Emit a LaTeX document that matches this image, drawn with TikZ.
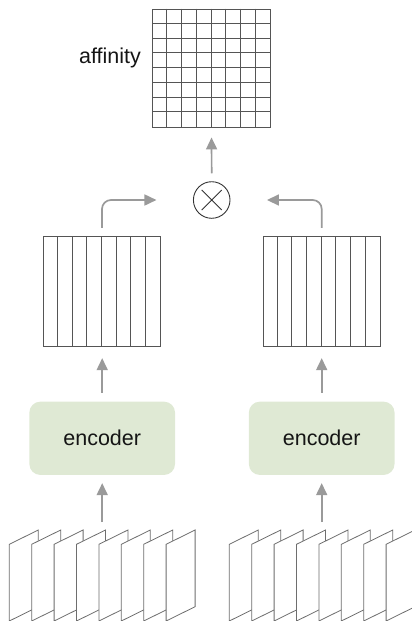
\documentclass[tikz,border=0pt]{standalone}
\usepackage{fontspec}
\setmainfont{Liberation Sans}
\usetikzlibrary{arrows.meta}
\definecolor{arrowgray}{HTML}{9A9A9A}
\definecolor{gridgray}{HTML}{555555}
\definecolor{framegray}{HTML}{6E6E6E}
\definecolor{encgreen}{HTML}{DFE9D4}
\definecolor{txt}{HTML}{151515}
\tikzset{
  arr/.style={draw=arrowgray, line width=1.7pt, -{Triangle[length=12pt,width=11pt]}},
  gridbox/.style={draw=gridgray, line width=0.9pt, minimum width=118pt, minimum height=118pt, inner sep=0pt},
  featbox/.style={draw=gridgray, line width=0.9pt, minimum width=117.4pt, minimum height=110pt, inner sep=0pt},
  encbox/.style={fill=encgreen, rounded corners=11pt, minimum width=145.7pt, minimum height=73.3pt, inner sep=0pt, font=\fontsize{21.5}{24}\selectfont, text=txt},
  labeltext/.style={font=\fontsize{21.5}{24}\selectfont, text=txt, inner sep=0pt},
  mult/.style={circle, draw=black!80, line width=0.9pt, minimum size=36.6pt, inner sep=0pt},
  frame/.style={draw=framegray, fill=white, line width=0.8pt, line join=miter},
  thin/.style={draw=gridgray, line width=0.9pt}
}
\begin{document}
\begin{tikzpicture}[x=1pt,y=-1pt]
\useasboundingbox (0,0) rectangle (412,621);
% affinity grid
\node[gridbox] (aff) at (211.5,68) {};
\foreach \i in {1,...,7}{
  \draw[thin] ([xshift=\i*14.75pt]aff.north west) -- ([xshift=\i*14.75pt]aff.south west);
  \draw[thin] ([yshift=-\i*14.75pt]aff.north west) -- ([yshift=-\i*14.75pt]aff.north east);
}
\node[labeltext] (afflabel) at (110,57.5) {affinity};
% multiplication
\node[mult] (circ) at (211.7,200) {};
\draw[black!80, line width=0.9pt] ([shift={(-10pt,10pt)}]circ.center) -- ([shift={(10pt,-10pt)}]circ.center)
  ([shift={(-10pt,-10pt)}]circ.center) -- ([shift={(10pt,10pt)}]circ.center);
% feature blocks
\node[featbox] (featL) at (102,291.7) {};
\node[featbox] (featR) at (321.7,291.7) {};
\foreach \f in {featL,featR}{
  \foreach \i in {1,...,7}{
    \draw[thin] ([xshift=\i*14.675pt]\f.north west) -- ([xshift=\i*14.675pt]\f.south west);
  }
}
% encoders
\node[encbox] (encL) at (102.2,438.3) {encoder};
\node[encbox] (encR) at (321.7,438.3) {encoder};
% frames
\foreach \s in {0,220}{
  \foreach \j in {0,...,7}{
    \pgfmathsetmacro{\xo}{9.3+\s+22.4*\j}
    \draw[frame] (\xo,621) -- (\xo,544.3) -- (\xo+29,530) -- (\xo+29,606.7) -- cycle;
  }
}
\coordinate (framesL) at (102.2,522);
\coordinate (framesR) at (321.7,522);
% arrows
\draw[arr, shorten <=8pt, shorten >=10pt] (circ.north) -- (aff.south);
\draw[arr, rounded corners=9pt] ([yshift=8.5pt]featL.north) |- ([xshift=-36.5pt]circ.west);
\draw[arr, rounded corners=9pt] ([yshift=8.5pt]featR.north) |- ([xshift=36.5pt]circ.east);
\draw[arr, shorten <=8.5pt, shorten >=11pt] (encL.north) -- (encL.north |- featL.south);
\draw[arr, shorten <=8.5pt, shorten >=11pt] (encR.north) -- (encR.north |- featR.south);
\draw[arr, shorten >=8pt] (framesL) -- (encL.south);
\draw[arr, shorten >=8pt] (framesR) -- (encR.south);
\end{tikzpicture}
\end{document}
